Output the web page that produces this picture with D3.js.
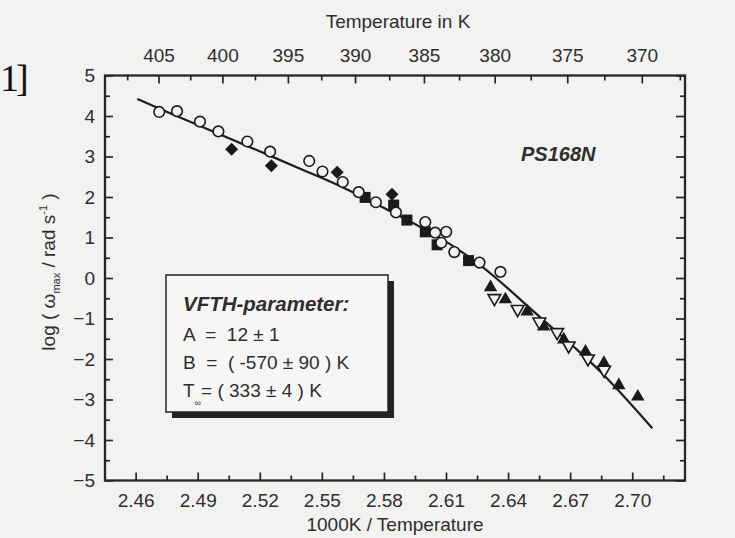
<!DOCTYPE html>
<html>
<head>
<meta charset="utf-8">
<script src="https://cdn.jsdelivr.net/npm/d3@7"></script>
<style>
  html, body { margin: 0; padding: 0; background: #f2f2f0; }
  svg { display: block; font-family: "Liberation Sans", Arial, sans-serif; }
</style>
</head>
<body>
<svg id="chart" width="735" height="538"></svg>
<script>
// open circles
const circleX = [2.4714, 2.4800, 2.4911, 2.5000, 2.5140, 2.5250, 2.5439, 2.5503, 2.5601, 2.5678,
                 2.5761, 2.5858, 2.6000, 2.6048, 2.6101, 2.6077, 2.6140, 2.6262, 2.6363];
const circleY = [4.10, 4.12, 3.86, 3.62, 3.37, 3.12, 2.89, 2.63, 2.37, 2.12,
                 1.87, 1.62, 1.38, 1.12, 1.14, 0.87, 0.64, 0.38, 0.15];
// filled diamonds
const diamondX = [2.5064, 2.5256, 2.5574, 2.5839];
const diamondY = [3.18, 2.77, 2.61, 2.07];
// filled squares
const squareX = [2.5709, 2.5847, 2.5911, 2.6000, 2.6057, 2.6209];
const squareY = [1.99, 1.80, 1.43, 1.14, 0.82, 0.43];
// filled triangles (up)
const triUpX = [2.6315, 2.6387, 2.6492, 2.6572, 2.6669, 2.6774, 2.6863, 2.6935, 2.7027];
const triUpY = [-0.23, -0.53, -0.83, -1.20, -1.52, -1.82, -2.10, -2.65, -2.93];
// open triangles (down)
const triDownX = [2.6334, 2.6446, 2.6551, 2.6637, 2.6693, 2.6786, 2.6864];
const triDownY = [-0.50, -0.77, -1.08, -1.34, -1.67, -1.99, -2.27];
// VFTH fit curve
const fitX = [2.4608, 2.4714, 2.5000, 2.5250, 2.5439, 2.5600, 2.5863, 2.6024, 2.6266, 2.6484, 2.6653, 2.6847, 2.7097];
const fitY = [4.42, 4.18, 3.56, 3.02, 2.60, 2.26, 1.56, 1.15, 0.37, -0.65, -1.41, -2.27, -3.71];

// ticks
const xMajor = [2.46, 2.49, 2.52, 2.55, 2.58, 2.61, 2.64, 2.67, 2.70];
const xMinor = [2.475, 2.505, 2.535, 2.565, 2.595, 2.625, 2.655, 2.685, 2.715];
const yMajor = [-5, -4, -3, -2, -1, 0, 1, 2, 3, 4, 5];
const yMinor = [-4.5, -3.5, -2.5, -1.5, -0.5, 0.5, 1.5, 2.5, 3.5, 4.5];
const tempMajor = [405, 400, 395, 390, 385, 380, 375, 370];
const tempMinor = [407.5, 402.5, 397.5, 392.5, 387.5, 382.5, 377.5, 372.5, 367.5];

const ink = "#262626";
const textInk = "#2e2e2e";
const paper = "#f2f2f0";

const svg = d3.select("#chart");
const plotLeft = 105, plotRight = 685, plotTop = 75.5, plotBottom = 480.5;

const x = d3.scaleLinear().domain([2.4452, 2.7255]).range([plotLeft, plotRight]);
const y = d3.scaleLinear().domain([-5, 5]).range([plotBottom, plotTop]);

const zip = (xs, ys) => xs.map((v, i) => ({x: v, y: ys[i]}));

// stray bracket from the scanned page
svg.append("text")
    .attr("x", 0).attr("y", 91)
    .attr("font-family", "'Liberation Serif', 'DejaVu Serif', serif")
    .attr("font-size", 38)
    .attr("letter-spacing", -3)
    .attr("fill", "#111")
    .text("1]");

const styleAxis = function (g) {
    g.select(".domain").remove();
    g.selectAll("line").attr("stroke", ink).attr("stroke-width", 1.7);
    g.selectAll("text").attr("fill", textInk).attr("font-size", 19)
        .attr("font-family", "'Liberation Sans', Arial, sans-serif");
}

// bottom axis
svg.append("g").attr("transform", `translate(0,${plotBottom})`)
    .call(d3.axisBottom(x).tickValues(xMajor).tickSizeInner(-8).tickSizeOuter(0)
        .tickPadding(13).tickFormat(d3.format(".2f")))
    .call(styleAxis);
svg.append("g").attr("transform", `translate(0,${plotBottom})`)
    .call(d3.axisBottom(x).tickValues(xMinor).tickSizeInner(-5).tickSizeOuter(0).tickFormat(""))
    .call(styleAxis);

// left axis
svg.append("g").attr("transform", `translate(${plotLeft},0)`)
    .call(d3.axisLeft(y).tickValues(yMajor).tickSizeInner(-8).tickSizeOuter(0).tickPadding(10))
    .call(styleAxis);
svg.append("g").attr("transform", `translate(${plotLeft},0)`)
    .call(d3.axisLeft(y).tickValues(yMinor).tickSizeInner(-5).tickSizeOuter(0).tickFormat(""))
    .call(styleAxis);

// right axis
svg.append("g").attr("transform", `translate(${plotRight},0)`)
    .call(d3.axisRight(y).tickValues(yMajor).tickSizeInner(-9).tickSizeOuter(0).tickFormat(""))
    .call(styleAxis);
svg.append("g").attr("transform", `translate(${plotRight},0)`)
    .call(d3.axisRight(y).tickValues(yMinor).tickSizeInner(-5).tickSizeOuter(0).tickFormat(""))
    .call(styleAxis);

// top axis: temperature at 1000/T (slightly shifted in the original)
const topShift = 4;
svg.append("g").attr("transform", `translate(${topShift},${plotTop})`)
    .call(d3.axisTop(x).tickValues(tempMajor.map(t => 1000 / t)).tickSizeInner(-8).tickSizeOuter(0)
        .tickPadding(14).tickFormat(d => Math.round(1000 / d)))
    .call(styleAxis);
svg.append("g").attr("transform", `translate(${topShift},${plotTop})`)
    .call(d3.axisTop(x).tickValues(tempMinor.map(t => 1000 / t)).tickSizeInner(-5).tickSizeOuter(0).tickFormat(""))
    .call(styleAxis);

// frame
svg.append("rect")
    .attr("x", plotLeft).attr("y", plotTop)
    .attr("width", plotRight - plotLeft).attr("height", plotBottom - plotTop)
    .attr("fill", "none").attr("stroke", ink).attr("stroke-width", 2.3);

// axis titles
svg.append("text")
    .attr("x", 398).attr("y", 28)
    .attr("text-anchor", "middle").attr("font-size", 19).attr("fill", textInk)
    .text("Temperature in K");

svg.append("text")
    .attr("x", 395).attr("y", 531)
    .attr("text-anchor", "middle").attr("font-size", 19).attr("fill", textInk)
    .text("1000K / Temperature");

const yTitle = svg.append("text")
    .attr("transform", "translate(55,272) rotate(-90)")
    .attr("text-anchor", "middle").attr("font-size", 19).attr("fill", textInk);
yTitle.append("tspan").text("log ( ω");
yTitle.append("tspan").attr("font-size", 11).attr("dy", 5).text("max");
yTitle.append("tspan").attr("dy", -5).text(" / rad s");
yTitle.append("tspan").attr("font-size", 11).attr("dy", -8).text("-1");
yTitle.append("tspan").attr("dy", 8).text(" )");

// sample label
svg.append("text")
    .attr("x", 521).attr("y", 161)
    .attr("font-size", 20).attr("font-weight", "bold").attr("font-style", "italic")
    .attr("fill", textInk)
    .text("PS168N");

// legend box with shadow
const legend = svg.append("g");
legend.append("rect")
    .attr("x", 172).attr("y", 281).attr("width", 222).attr("height", 137)
    .attr("fill", "#232323");
legend.append("rect")
    .attr("x", 166).attr("y", 275).attr("width", 222).attr("height", 137)
    .attr("fill", "#f6f6f4").attr("stroke", ink).attr("stroke-width", 1.5);
legend.append("text")
    .attr("x", 183).attr("y", 310.5)
    .attr("font-size", 20.5).attr("font-weight", "bold").attr("font-style", "italic")
    .attr("fill", textInk)
    .text("VFTH-parameter:");
const legendLines = ["A  =  12 ± 1", "B  =  ( -570 ± 90 ) K"];
const legendBase = [340.5, 369];
legendLines.forEach((s, i) => {
    legend.append("text")
        .attr("x", 183).attr("y", legendBase[i])
        .attr("font-size", 19).attr("fill", textInk)
        .style("white-space", "pre")
        .text(s);
});
const tLine = legend.append("text")
    .attr("x", 183).attr("y", 396.5)
    .attr("font-size", 19).attr("fill", textInk)
    .style("white-space", "pre");
tLine.append("tspan").text("T");
tLine.append("tspan").attr("font-size", 9).attr("dy", 9).text("∞");
tLine.append("tspan").attr("dy", -9).text("= ( 333 ± 4 ) K");

// fit curve
const line = d3.line().x(d => x(d.x)).y(d => y(d.y)).curve(d3.curveBasis);
svg.append("path")
    .datum(zip(fitX, fitY))
    .attr("d", line)
    .attr("fill", "none").attr("stroke", "#1e1e1e").attr("stroke-width", 2.2);

// markers
const marks = svg.append("g");

marks.selectAll("rect.sq")
    .data(zip(squareX, squareY))
    .join("rect").attr("class", "sq")
    .attr("x", d => x(d.x) - 5.5).attr("y", d => y(d.y) - 5.5)
    .attr("width", 11).attr("height", 11)
    .attr("fill", "#1a1a1a");

marks.selectAll("path.dia")
    .data(zip(diamondX, diamondY))
    .join("path").attr("class", "dia")
    .attr("d", d3.symbol(d3.symbolSquare, 85))
    .attr("transform", d => `translate(${x(d.x)},${y(d.y)}) rotate(45)`)
    .attr("fill", "#1a1a1a");

marks.selectAll("path.tup")
    .data(zip(triUpX, triUpY))
    .join("path").attr("class", "tup")
    .attr("d", d3.symbol(d3.symbolTriangle, 78))
    .attr("transform", d => `translate(${x(d.x)},${y(d.y)})`)
    .attr("fill", "#1a1a1a");

marks.selectAll("path.tdn")
    .data(zip(triDownX, triDownY))
    .join("path").attr("class", "tdn")
    .attr("d", d3.symbol(d3.symbolTriangle, 70))
    .attr("transform", d => `translate(${x(d.x)},${y(d.y)}) rotate(180)`)
    .attr("fill", paper).attr("stroke", "#1a1a1a").attr("stroke-width", 1.6);

marks.selectAll("circle")
    .data(zip(circleX, circleY))
    .join("circle")
    .attr("cx", d => x(d.x)).attr("cy", d => y(d.y))
    .attr("r", 5.3)
    .attr("fill", paper).attr("stroke", "#1a1a1a").attr("stroke-width", 1.6);
</script>
</body>
</html>
